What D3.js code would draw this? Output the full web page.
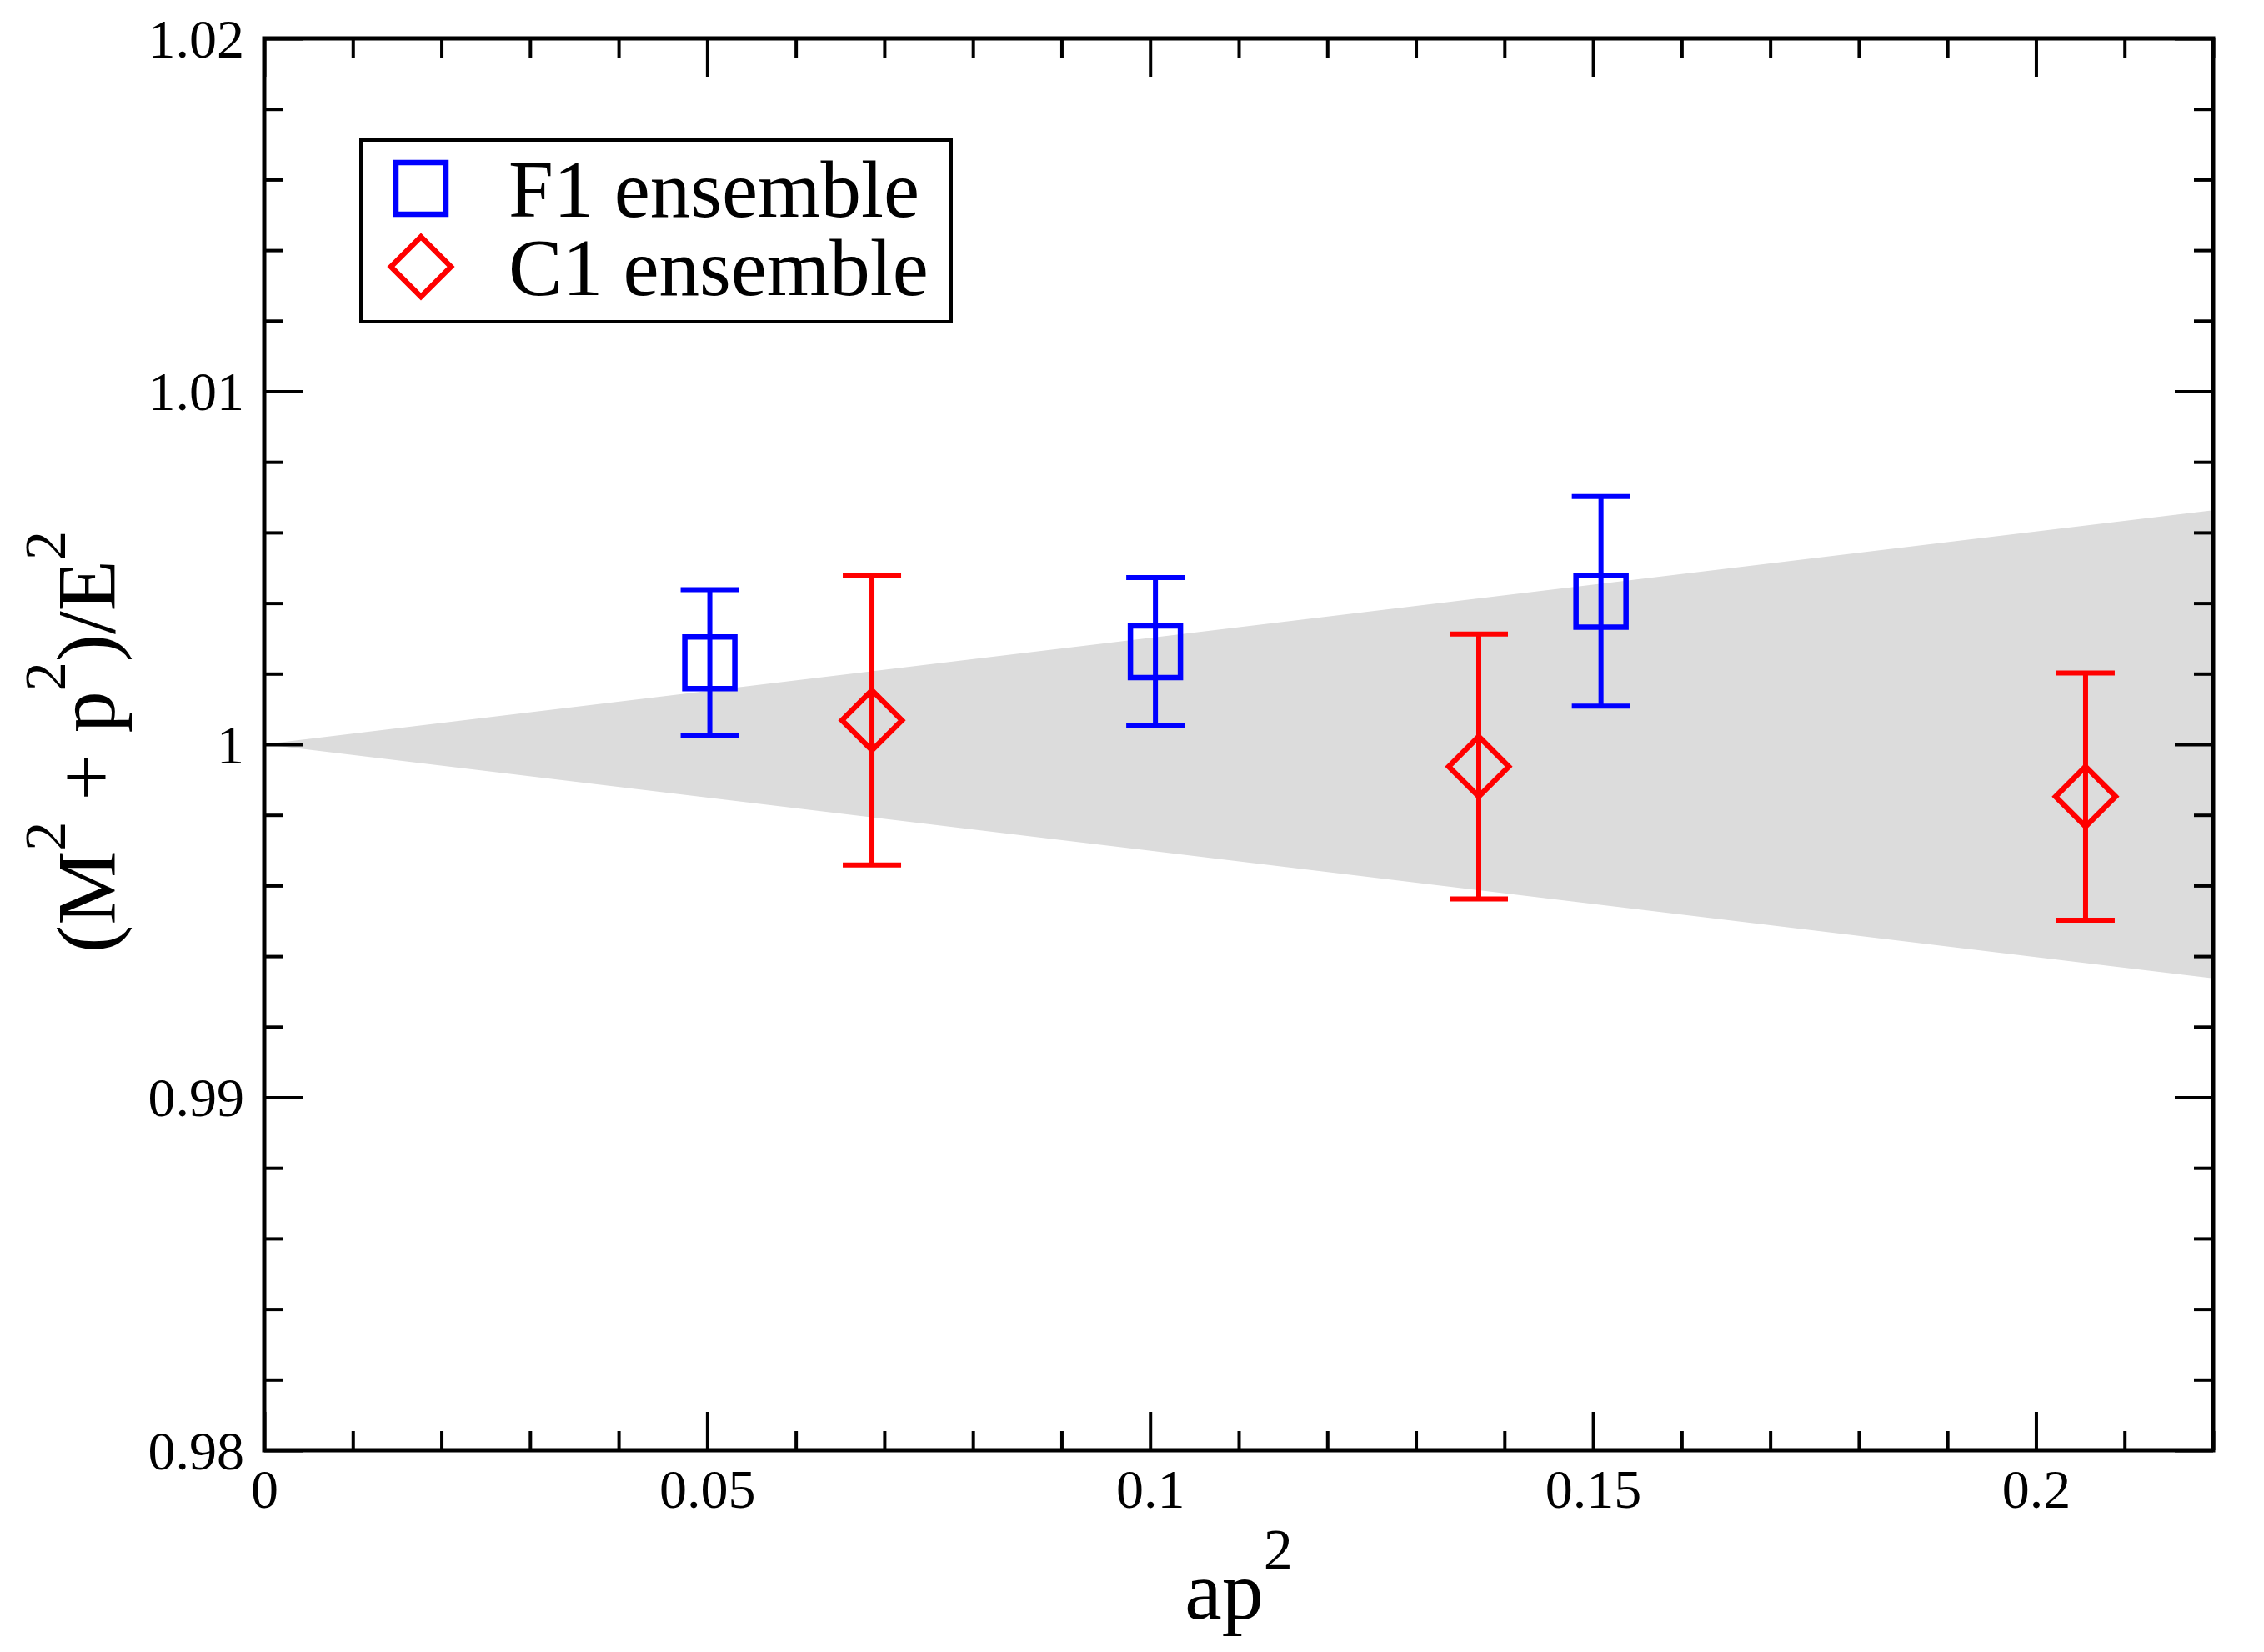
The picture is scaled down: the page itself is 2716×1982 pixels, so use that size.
<!DOCTYPE html>
<html>
<head>
<meta charset="utf-8">
<script src="https://cdn.jsdelivr.net/npm/d3@7"></script>
<style>
  body { margin: 0; background: #fff; }
  text { font-family: "Liberation Serif", "Times New Roman", serif; fill: #000; }
</style>
</head>
<body>
<svg id="chart" width="2716" height="1982"></svg>
<script>
// data
var f1X   = [0.0503, 0.1006, 0.1509];
var f1Y   = [1.00231, 1.00262, 1.00405];
var f1Err = [0.00207, 0.00210, 0.00297];

var c1X   = [0.0686, 0.1371, 0.2056];
var c1Y   = [1.00068, 0.99937, 0.99852];
var c1Err = [0.00410, 0.00375, 0.00350];

// grey band (edges of the fit error)
var bandX  = [0, 0.22];
var bandHi = [1, 1.00663];
var bandLo = [1, 0.99337];

var xMajor = [0, 0.05, 0.1, 0.15, 0.2];
var xLabels = ["0", "0.05", "0.1", "0.15", "0.2"];
var yMajor = [0.98, 0.99, 1.0, 1.01, 1.02];
var yLabels = ["0.98", "0.99", "1", "1.01", "1.02"];

var svg = d3.select("#chart");

// plot frame (note: "top" is reserved on window, so use other names)
var plotL = 317, plotR = 2655, plotT = 46, plotB = 1740;

var x = d3.scaleLinear().domain([0, 0.22]).range([plotL, plotR]);
var y = d3.scaleLinear().domain([0.98, 1.02]).range([plotB, plotT]);

// minor tick positions
var xMinor = d3.range(0, 0.2201, 0.01).filter(function(v) {
    return Math.abs(v / 0.05 - Math.round(v / 0.05)) > 1e-6;
});
var yMinor = d3.range(0.98, 1.0201, 0.002).filter(function(v) {
    return Math.abs((v - 0.98) / 0.01 - Math.round((v - 0.98) / 0.01)) > 1e-6;
});

// band
var bandData = bandX.map(function(d, i) { return {x: d, hi: bandHi[i], lo: bandLo[i]}; });
svg.append("path")
    .datum(bandData)
    .attr("fill", "#dcdcdc")
    .attr("d", d3.area()
        .x(function(d) { return x(d.x); })
        .y0(function(d) { return y(d.lo); })
        .y1(function(d) { return y(d.hi); }));

// axes: ticks point inward on all four sides
function styleAxis(g) {
    g.select(".domain").remove();
    g.selectAll("line").attr("stroke", "#000").attr("stroke-width", 4);
}

svg.append("g").attr("transform", "translate(0," + plotB + ")")
    .call(d3.axisBottom(x).tickValues(xMajor).tickSize(-46).tickSizeOuter(0)
        .tickFormat(function(d, i) { return xLabels[i]; }))
    .call(styleAxis)
    .call(function(g) {
        g.selectAll("text").attr("y", 69).attr("dy", null)
            .attr("font-size", 66).attr("font-family", "Liberation Serif").attr("fill", "#000");
    });
svg.append("g").attr("transform", "translate(0," + plotB + ")")
    .call(d3.axisBottom(x).tickValues(xMinor).tickSize(-23).tickSizeOuter(0).tickFormat(""))
    .call(styleAxis);
svg.append("g").attr("transform", "translate(0," + plotT + ")")
    .call(d3.axisTop(x).tickValues(xMajor).tickSize(-46).tickSizeOuter(0).tickFormat(""))
    .call(styleAxis);
svg.append("g").attr("transform", "translate(0," + plotT + ")")
    .call(d3.axisTop(x).tickValues(xMinor).tickSize(-23).tickSizeOuter(0).tickFormat(""))
    .call(styleAxis);

svg.append("g").attr("transform", "translate(" + plotL + ",0)")
    .call(d3.axisLeft(y).tickValues(yMajor).tickSize(-46).tickSizeOuter(0)
        .tickFormat(function(d, i) { return yLabels[i]; }))
    .call(styleAxis)
    .call(function(g) {
        g.selectAll("text").attr("x", -24).attr("y", 22).attr("dy", null)
            .attr("font-size", 66).attr("font-family", "Liberation Serif").attr("fill", "#000");
    });
svg.append("g").attr("transform", "translate(" + plotL + ",0)")
    .call(d3.axisLeft(y).tickValues(yMinor).tickSize(-23).tickSizeOuter(0).tickFormat(""))
    .call(styleAxis);
svg.append("g").attr("transform", "translate(" + plotR + ",0)")
    .call(d3.axisRight(y).tickValues(yMajor).tickSize(-46).tickSizeOuter(0).tickFormat(""))
    .call(styleAxis);
svg.append("g").attr("transform", "translate(" + plotR + ",0)")
    .call(d3.axisRight(y).tickValues(yMinor).tickSize(-23).tickSizeOuter(0).tickFormat(""))
    .call(styleAxis);

// frame
svg.append("rect")
    .attr("x", plotL).attr("y", plotT)
    .attr("width", plotR - plotL).attr("height", plotB - plotT)
    .attr("fill", "none").attr("stroke", "#000").attr("stroke-width", 5);

// series
var series = [
    {xs: f1X, ys: f1Y, es: f1Err, color: "#0000ff", shape: "square"},
    {xs: c1X, ys: c1Y, es: c1Err, color: "#ff0000", shape: "diamond"}
];

function markerPath(shape) {
    if (shape === "square") return "M-30,-31H30V31H-30Z";
    return "M0,-36L36,0L0,36L-36,0Z";
}

series.forEach(function(s) {
    var pts = s.xs.map(function(d, i) { return {x: d, y: s.ys[i], e: s.es[i]}; });
    var g = svg.append("g");

    // error bars
    g.selectAll(".bar").data(pts).enter().append("line")
        .attr("x1", function(d) { return x(d.x); })
        .attr("x2", function(d) { return x(d.x); })
        .attr("y1", function(d) { return y(d.y + d.e); })
        .attr("y2", function(d) { return y(d.y - d.e); })
        .attr("stroke", s.color).attr("stroke-width", 6);
    g.selectAll(".capTop").data(pts).enter().append("line")
        .attr("x1", function(d) { return x(d.x) - 35; })
        .attr("x2", function(d) { return x(d.x) + 35; })
        .attr("y1", function(d) { return y(d.y + d.e); })
        .attr("y2", function(d) { return y(d.y + d.e); })
        .attr("stroke", s.color).attr("stroke-width", 6);
    g.selectAll(".capBot").data(pts).enter().append("line")
        .attr("x1", function(d) { return x(d.x) - 35; })
        .attr("x2", function(d) { return x(d.x) + 35; })
        .attr("y1", function(d) { return y(d.y - d.e); })
        .attr("y2", function(d) { return y(d.y - d.e); })
        .attr("stroke", s.color).attr("stroke-width", 6);

    // markers
    g.selectAll(".mark").data(pts).enter().append("path")
        .attr("transform", function(d) { return "translate(" + x(d.x) + "," + y(d.y) + ")"; })
        .attr("d", markerPath(s.shape))
        .attr("fill", "none").attr("stroke", s.color).attr("stroke-width", 6.5);
});

// legend
var legend = svg.append("g");
legend.append("rect")
    .attr("x", 433).attr("y", 168).attr("width", 708).attr("height", 218)
    .attr("fill", "#fff").attr("stroke", "#000").attr("stroke-width", 4);

var legendNames = ["F1 ensemble", "C1 ensemble"];
var legendColors = ["#0000ff", "#ff0000"];
var legendShapes = ["square", "diamond"];
var legendRows = [226, 320];
legendNames.forEach(function(name, i) {
    legend.append("path")
        .attr("transform", "translate(505," + legendRows[i] + ")")
        .attr("d", markerPath(legendShapes[i]))
        .attr("fill", "none").attr("stroke", legendColors[i]).attr("stroke-width", 6.5);
    legend.append("text")
        .attr("x", 610).attr("y", legendRows[i] + 34)
        .attr("font-size", 97)
        .text(name);
});

// axis titles with superscripts
function addPieces(textSel, pieces) {
    var raised = false;
    pieces.forEach(function(p) {
        var t = textSel.append("tspan").text(p.t);
        if (p.sup) {
            t.attr("font-size", 70).attr("dy", -59);
            raised = true;
        } else if (raised) {
            t.attr("dy", 59);
            raised = false;
        }
    });
}

var xTitle = svg.append("text")
    .attr("x", (plotL + plotR) / 2).attr("y", 1942)
    .attr("text-anchor", "middle").attr("font-size", 100);
addPieces(xTitle, [{t: "ap"}, {t: "2", sup: true}]);

var yTitle = svg.append("text")
    .attr("transform", "translate(137,890) rotate(-90)")
    .attr("text-anchor", "middle").attr("font-size", 100);
addPieces(yTitle, [
    {t: "(M"}, {t: "2", sup: true}, {t: " + p"}, {t: "2", sup: true},
    {t: ")/E"}, {t: "2", sup: true}
]);
</script>
</body>
</html>
